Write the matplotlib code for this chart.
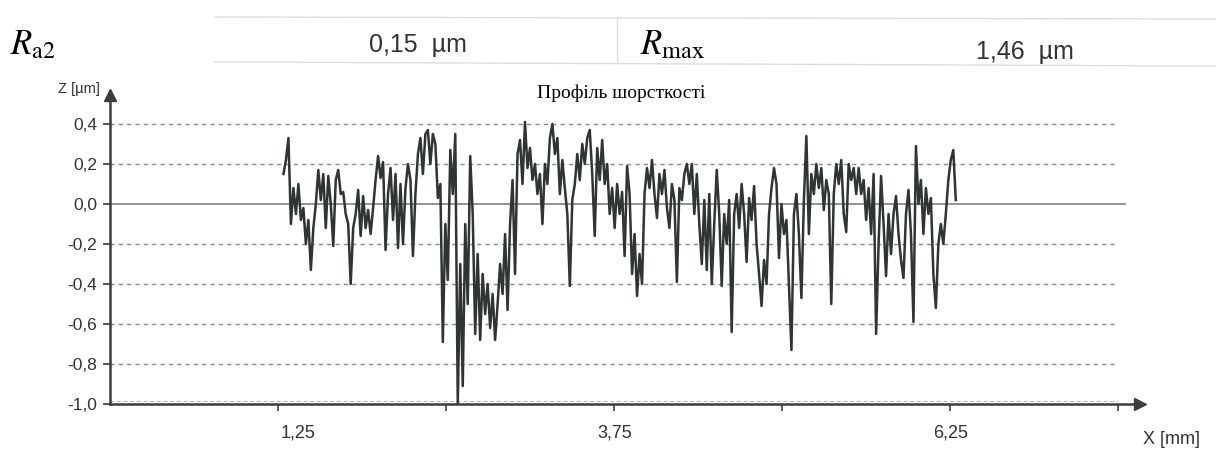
import numpy as np
import matplotlib
matplotlib.use("Agg")
import matplotlib.pyplot as plt
import matplotlib.transforms as mtransforms

plt.rcParams['font.family'] = ['Liberation Sans', 'DejaVu Sans']
plt.rcParams['mathtext.fontset'] = 'stix'

# header values
ra2_text = "0,15  µm"
rmax_text = "1,46  µm"
title = "Профіль шорсткості"

# axes
y_ticks = [0.4, 0.2, 0.0, -0.2, -0.4, -0.6, -0.8, -1.0]
y_tick_labels = ["0,4", "0,2", "0,0", "-0,2", "-0,4", "-0,6", "-0,8", "-1,0"]
x_ticks = [1.25, 3.75, 6.25]
x_tick_labels = ["1,25", "3,75", "6,25"]
x_minor_ticks = [2.5, 5.0, 7.5]
grid_levels = [0.4, 0.2, -0.2, -0.4, -0.6, -0.8]

# roughness profile (mm range + heights in µm)
profile_start_mm = 1.29
profile_end_mm = 6.29
profile_z = [
    0.15, 0.22, 0.33, -0.10, 0.08, -0.05, 0.10, -0.08, -0.02, -0.20,
    -0.08, -0.33, -0.12, 0.00, 0.17, 0.02, 0.15, -0.12, 0.14, 0.00,
    -0.21, 0.12, 0.17, 0.05, 0.06, -0.05, -0.10, -0.40, -0.12, -0.05,
    0.07, -0.16, 0.04, -0.12, -0.03, -0.15, -0.02, 0.12, 0.24, 0.13,
    0.21, -0.23, 0.05, 0.18, -0.08, 0.15, -0.22, 0.10, -0.20, 0.08,
    0.20, 0.12, -0.26, 0.05, 0.25, 0.33, 0.15, 0.35, 0.37, 0.20,
    0.35, 0.30, 0.03, 0.10,
    -0.69, -0.10, -0.38, 0.27, 0.05, 0.35, -1.00, -0.30, -0.91, -0.10,
    -0.50, 0.24, -0.05, -0.65, -0.25, -0.68, -0.35, -0.55, -0.40, -0.62,
    -0.45, -0.68, -0.50, -0.30, -0.45, -0.15, -0.53, -0.10, 0.12, -0.35,
    0.25, 0.32, 0.10, 0.41, 0.18, 0.28, 0.12, 0.20, 0.05, 0.15,
    -0.10, 0.20, 0.10, 0.33, 0.40, 0.25, 0.33, 0.05, 0.22, 0.08,
    -0.05, -0.41, 0.02, 0.10, 0.25, 0.12, 0.30, 0.20, 0.33, 0.37,
    0.15, -0.16, 0.28, 0.12, 0.32, 0.10, 0.20, -0.05, 0.08,
    -0.12, 0.10, -0.05, 0.06, -0.26, 0.19, 0.05, -0.35, -0.15, -0.46,
    -0.25, -0.40, 0.05, 0.18, 0.08, 0.22, 0.05, -0.07, 0.15, 0.05,
    0.17, -0.02, -0.12, 0.10, 0.02, -0.39, 0.08, 0.02, 0.15, 0.20,
    0.10, 0.20, -0.05, 0.15, -0.10, -0.30, 0.02, -0.33, 0.05, -0.40,
    -0.10, 0.17, -0.05, -0.41, -0.05, -0.20, 0.02, -0.64, -0.05, 0.05,
    -0.12, 0.10, -0.05, -0.29, 0.03, -0.08, 0.09, -0.20, -0.35, -0.51,
    -0.28, -0.40, -0.05, 0.08, 0.18, 0.10, -0.27, 0.00, -0.15, -0.08,
    -0.40,
    -0.73, -0.05, 0.05, -0.15, -0.47, 0.02, 0.34, -0.15, 0.15, 0.05,
    0.20, 0.08, 0.18, -0.03, 0.12, 0.05, -0.50, 0.05, 0.20, 0.10,
    0.22, -0.05, -0.14, 0.20, 0.12, 0.18, 0.05, 0.18, 0.05, 0.12,
    -0.08, 0.08, -0.15, 0.15, -0.65, -0.20, 0.14, -0.10, -0.36, -0.05,
    -0.25, -0.05, 0.04, -0.15, -0.28, -0.37, -0.05, 0.07, -0.15, -0.59,
    0.29, 0.00, 0.12, -0.15, 0.08, -0.05, 0.03, -0.35, -0.52, -0.20,
    -0.10, -0.20, -0.05, 0.12, 0.22, 0.27, 0.02,
]

profile_x = np.linspace(profile_start_mm, profile_end_mm, len(profile_z))

fig = plt.figure(figsize=(12.22, 4.57), dpi=100)
ax = fig.add_axes([110 / 1222, 1 - 404 / 457, 1030 / 1222, 309 / 457])

axis_col = '#3c3c3c'
grid_col = '#8a8a8a'

# gridlines
for lvl in grid_levels:
    ax.axhline(lvl, xmin=0, xmax=7.5 / 7.66, color=grid_col, lw=1.0,
               ls=(0, (3, 3)), zorder=1)
ax.axhline(-0.985, xmin=0, xmax=7.5 / 7.66, color='#b0b0b0', lw=0.8,
           ls=(0, (3, 3)), zorder=1)
ax.axhline(0.0, xmin=0, xmax=7.55 / 7.66, color='#777777', lw=1.1, zorder=1)

ax.plot(profile_x, profile_z, color='#2f3532', lw=1.8, zorder=3)

ax.set_xlim(0, 7.66)
ax.set_ylim(-1.0, 0.545)

for side in ['top', 'right']:
    ax.spines[side].set_visible(False)
for side in ['left', 'bottom']:
    ax.spines[side].set_color(axis_col)
    ax.spines[side].set_linewidth(1.8)

ax.plot(1, 0, marker='>', color=axis_col, markersize=8, transform=ax.transAxes,
        clip_on=False)
ax.plot(0, 1, marker='^', color=axis_col, markersize=8, transform=ax.transAxes,
        clip_on=False)

ax.set_yticks(y_ticks)
ax.set_yticklabels(y_tick_labels)
ax.set_xticks(x_ticks)
ax.set_xticklabels(x_tick_labels)
ax.set_xticks(x_minor_ticks, minor=True)
ax.tick_params(axis='both', which='both', direction='out', length=5, width=1.2,
               color=axis_col, labelcolor='#333333')
ax.tick_params(axis='y', labelsize=12.5, pad=4)
ax.tick_params(axis='x', labelsize=13, pad=10)

# first x label sits a little right of its tick in the scan
first = ax.get_xticklabels()[0]
first.set_transform(first.get_transform() +
                    mtransforms.ScaledTranslation(0.2, 0, fig.dpi_scale_trans))

fig.text(58 / 1222, 1 - 89 / 457, "Z [µm]", fontsize=10.5, color='#333333',
         va='center', ha='left')
fig.text(1143 / 1222, 1 - 440 / 457, "X [mm]", fontsize=13, color='#333333',
         va='center', ha='left')
fig.text(621 / 1222, 1 - 93 / 457, title, fontsize=14,
         family=['Liberation Serif', 'DejaVu Serif'], ha='center', va='center')

# header table
fig.text(10 / 1222, 1 - 45 / 457, r"$R_{\mathrm{a2}}$", fontsize=25,
         ha='left', va='center')
fig.text(418 / 1222, 1 - 45 / 457, ra2_text, fontsize=18, color='#333333',
         ha='center', va='center')
fig.text(640 / 1222, 1 - 45 / 457, r"$R_{\mathrm{max}}$", fontsize=25,
         ha='left', va='center')
fig.text(1025 / 1222, 1 - 52 / 457, rmax_text, fontsize=18, color='#333333',
         ha='center', va='center')

line_col = '#dcdcdc'
fig.add_artist(plt.Line2D([215 / 1222, 1215 / 1222], [1 - 17 / 457, 1 - 19 / 457],
                          color=line_col, lw=1.0))
fig.add_artist(plt.Line2D([215 / 1222, 1215 / 1222], [1 - 62 / 457, 1 - 66 / 457],
                          color=line_col, lw=1.0))
fig.add_artist(plt.Line2D([617 / 1222, 617 / 1222], [1 - 18 / 457, 1 - 63 / 457],
                          color=line_col, lw=1.0))

fig.savefig("out.png", dpi=100)
